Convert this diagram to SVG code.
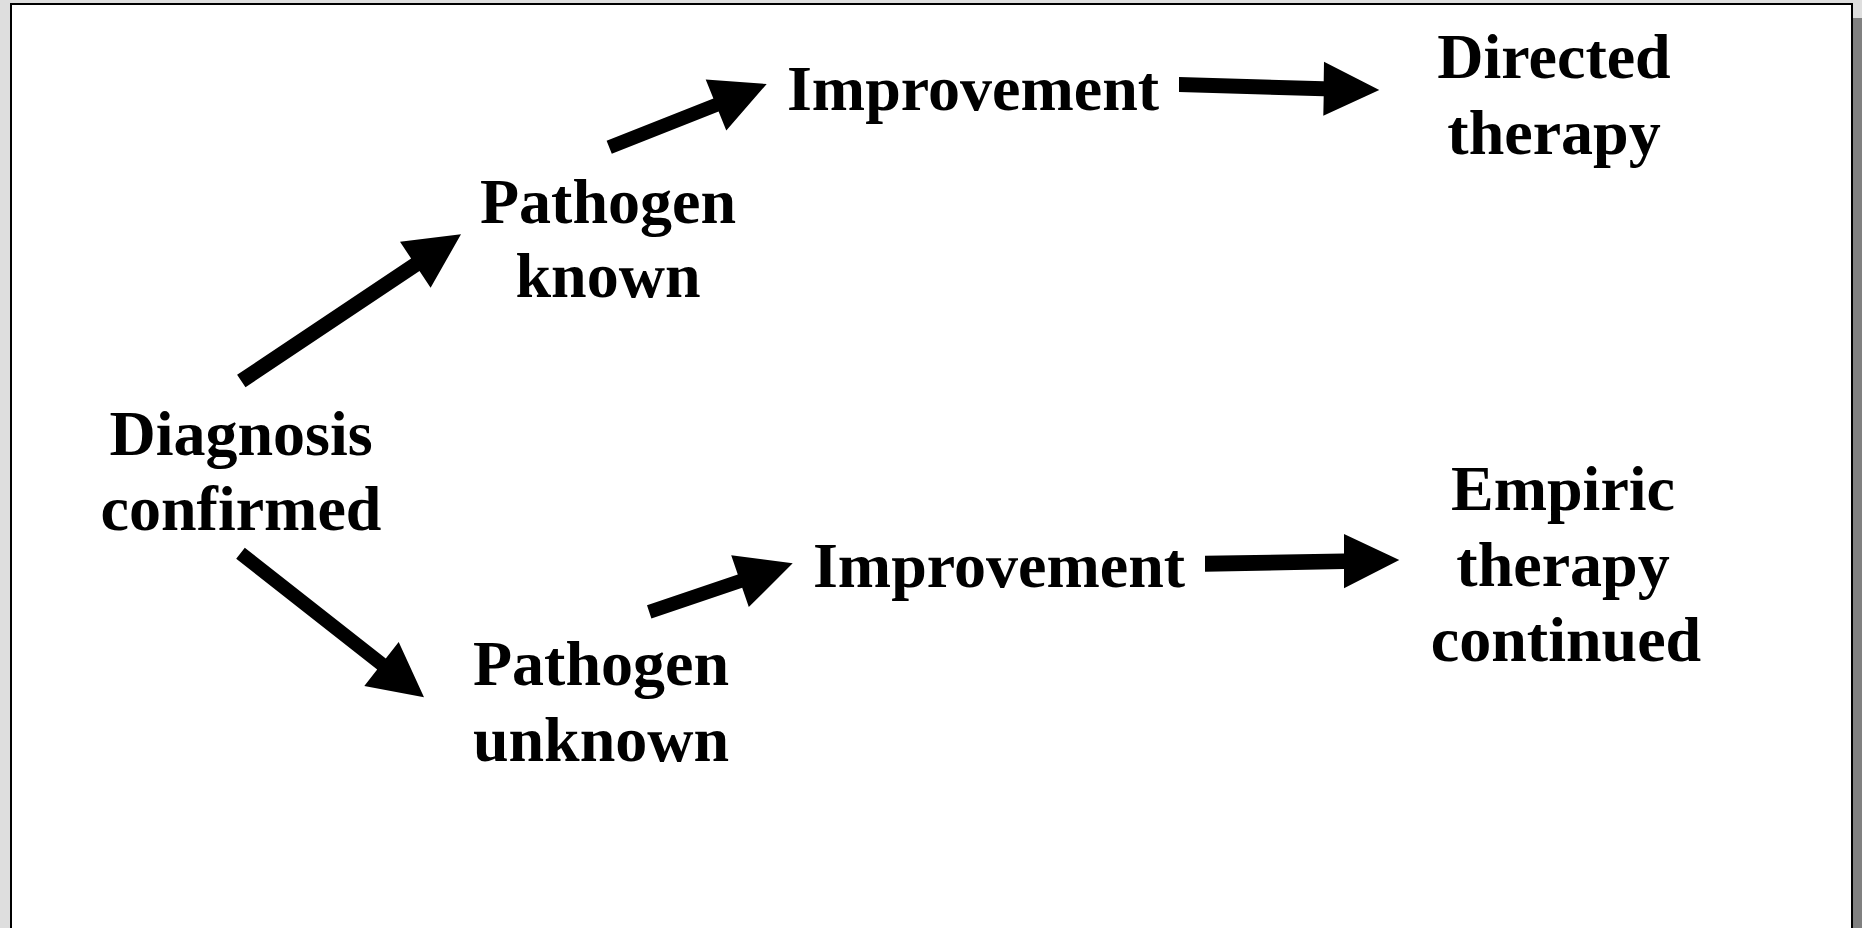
<svg xmlns="http://www.w3.org/2000/svg" width="1862" height="928" viewBox="0 0 1862 928">
  <style>
    .label { font-family: "Liberation Serif", "Times New Roman", serif; font-weight: bold; font-size: 64px; fill: #000; text-anchor: middle; }
    .arrow { fill: #000; stroke: none; }
  </style>
  <!-- window backdrop, page shadow and page -->
  <rect x="0" y="0" width="1862" height="928" fill="#dedede"/>
  <rect x="1852" y="18" width="10" height="910" fill="#808080"/>
  <rect x="11" y="4" width="1841" height="1000" fill="#ffffff" stroke="#000" stroke-width="2"/>

  <g id="connectors">
    <polygon class="arrow" points="237.1,374.8 411.1,258.5 400,241.7 461,234.3 430.6,287.7 419.5,270.9 245.5,387.2"/>
    <polygon class="arrow" points="244.8,547.8 385.8,658.5 398.7,642.1 424,697.3 364.3,685.9 377.2,669.5 236.2,558.8"/>
    <polygon class="arrow" points="606.6,140.8 713.4,98.5 705.7,79.4 766.7,84 726.3,130.6 718.6,111.5 611.8,153.8"/>
    <polygon class="arrow" points="1179,77 1323.7,81.2 1324,61.7 1379.3,90 1323.3,115.7 1323.7,96.2 1179,92"/>
    <polygon class="arrow" points="647,605.2 737.8,574.6 731.2,555.3 792.7,563.3 748.8,607.1 742.2,587.8 651.4,618.4"/>
    <polygon class="arrow" points="1205,555.7 1344,553.5 1344,534 1399.3,560 1344,588.3 1344,569 1205,571.7"/>
  </g>

  <g id="diagnosis-confirmed">
    <text class="label" x="241" y="455">Diagnosis</text>
    <text class="label" x="241" y="530">confirmed</text>
  </g>
  <g id="pathogen-known">
    <text class="label" x="608" y="223">Pathogen</text>
    <text class="label" x="608" y="297">known</text>
  </g>
  <g id="pathogen-unknown">
    <text class="label" x="601" y="685">Pathogen</text>
    <text class="label" x="601" y="761">unknown</text>
  </g>
  <g id="improvement-known">
    <text class="label" x="973" y="110">Improvement</text>
  </g>
  <g id="improvement-unknown">
    <text class="label" x="999" y="587">Improvement</text>
  </g>
  <g id="directed-therapy">
    <text class="label" x="1554" y="78">Directed</text>
    <text class="label" x="1554" y="154">therapy</text>
  </g>
  <g id="empiric-therapy">
    <text class="label" x="1563" y="510">Empiric</text>
    <text class="label" x="1563" y="586">therapy</text>
    <text class="label" x="1566" y="661">continued</text>
  </g>
</svg>
